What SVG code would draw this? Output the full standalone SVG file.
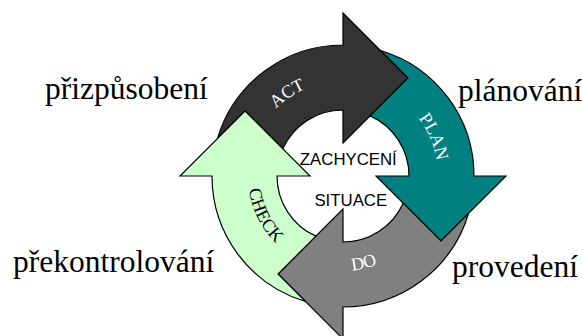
<svg xmlns="http://www.w3.org/2000/svg" xmlns:xlink="http://www.w3.org/1999/xlink" width="583" height="336" viewBox="0 0 583 336">
  <style>
    .arrow { stroke: #000; stroke-width: 1.2; stroke-linejoin: miter; }
    .label { font-family: "Liberation Serif", "DejaVu Serif", serif; font-size: 31.5px; fill: #000; }
    .arc { font-family: "Liberation Serif", "DejaVu Serif", serif; font-size: 18px; }
    .center { font-family: "Liberation Sans", Arial, sans-serif; font-size: 16.8px; fill: #000; text-anchor: middle; }
  </style>
  <defs>
    <path id="arrowShape" d="M 27.16 -60.16 L 65 -98 L 37.47 -125.53 A 131 131 0 0 1 131 0 L 163 0 L 98 65 L 33 0 L 66 0 A 66 66 0 0 0 27.16 -60.16 Z"/>
    <path id="pAct" d="M 251.7 149.8 A 95 95 0 0 1 352.9 81.5" fill="none"/>
    <path id="pPlan" d="M 385.7 91.1 A 95 95 0 0 1 434.0 203.3" fill="none"/>
    <path id="pDo" d="M 300.5 260.9 A 95 95 0 0 0 419.3 232.6" fill="none"/>
    <path id="pCheck" d="M 250.6 154.0 A 95 95 0 0 0 305.3 263.2" fill="none"/>
  </defs>
  <g id="connectors"></g>
  <g id="act">
    <use xlink:href="#arrowShape" href="#arrowShape" class="arrow" fill="#333333" transform="translate(343 176) rotate(-90)"/>
    <text class="arc" fill="#ffffff"><textPath xlink:href="#pAct" href="#pAct" startOffset="50%" text-anchor="middle">ACT</textPath></text>
  </g>
  <g id="plan">
    <use xlink:href="#arrowShape" href="#arrowShape" class="arrow" fill="#008080" transform="translate(343 176)"/>
    <text class="arc" fill="#ffffff"><textPath xlink:href="#pPlan" href="#pPlan" startOffset="50%" text-anchor="middle">PLAN</textPath></text>
  </g>
  <g id="do">
    <use xlink:href="#arrowShape" href="#arrowShape" class="arrow" fill="#808080" transform="translate(343 176) rotate(90)"/>
    <text class="arc" fill="#ffffff"><textPath xlink:href="#pDo" href="#pDo" startOffset="50%" text-anchor="middle">DO</textPath></text>
  </g>
  <g id="check">
    <use xlink:href="#arrowShape" href="#arrowShape" class="arrow" fill="#CCFFCC" transform="translate(343 176) rotate(180)"/>
    <text class="arc" fill="#000000"><textPath xlink:href="#pCheck" href="#pCheck" startOffset="50%" text-anchor="middle">CHECK</textPath></text>
  </g>
  <g id="situace">
    <text class="center" x="348.3" y="165">ZACHYCENÍ</text>
    <text class="center" x="350.8" y="206">SITUACE</text>
  </g>
  <g id="labels">
    <text class="label" x="45" y="99">přizpůsobení</text>
    <text class="label" x="458" y="101">plánování</text>
    <text class="label" x="13" y="272">překontrolování</text>
    <text class="label" x="452" y="277">provedení</text>
  </g>
</svg>
